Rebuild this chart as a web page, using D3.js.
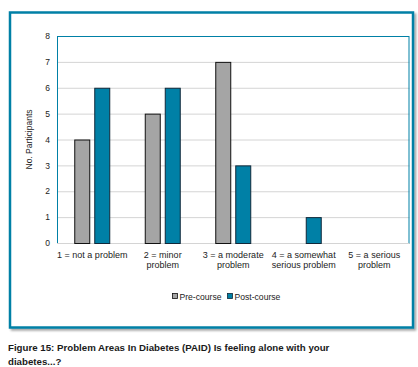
<!DOCTYPE html>
<html><head><meta charset="utf-8">
<script src="https://cdn.jsdelivr.net/npm/d3@7"></script>
<style>body{margin:0;background:#fff;} svg{display:block;font-family:"Liberation Sans",Arial,Helvetica,sans-serif;}</style>
</head><body>
<script>
const categories = [["1 = not a problem"],["2 = minor","problem"],["3 = a moderate","problem"],["4 = a somewhat","serious problem"],["5 = a serious","problem"]];
const seriesNames = ["Pre-course","Post-course"];
const preCourse = [4,5,7,0,0];
const postCourse = [6,6,3,1,0];
const yTicks = [0,1,2,3,4,5,6,7,8];
const colors = ["#a5a5a5","#0080a6"];
const strokes = ["#111","#10283a"];

const W=418,H=367;
const svg=d3.select("body").append("svg").attr("width",W).attr("height",H);
const defs=svg.append("defs");
const f=defs.append("filter").attr("id","sh").attr("x","-5%").attr("y","-5%").attr("width","115%").attr("height","115%");
f.append("feGaussianBlur").attr("in","SourceAlpha").attr("stdDeviation",1.2);
f.append("feOffset").attr("dx",2).attr("dy",2).attr("result","o");
f.append("feComponentTransfer").append("feFuncA").attr("type","linear").attr("slope",0.35);
const m=f.append("feMerge"); m.append("feMergeNode"); m.append("feMergeNode").attr("in","SourceGraphic");

svg.append("rect").attr("x",10).attr("y",12.5).attr("width",403).attr("height",315)
  .attr("fill","#fff").attr("stroke","#0080a6").attr("stroke-width",2.5).attr("filter","url(#sh)");

const L=57,T=36,R=409.5,B=243;
const x=d3.scaleBand().domain(d3.range(categories.length)).range([L,R]);
const y=d3.scaleLinear().domain([0,8]).range([B,T]);

const g=svg.append("g");
g.selectAll("line.grid").data(yTicks.filter(d=>d>0&&d<8)).enter().append("line")
  .attr("x1",L).attr("x2",R).attr("y1",d=>y(d)+0.5).attr("y2",d=>y(d)+0.5)
  .attr("stroke","#d4d4d4").attr("stroke-width",1);

const ya=d3.axisLeft(y).tickValues(yTicks).tickSize(0).tickPadding(7);
const yg=g.append("g").attr("transform",`translate(${L},0)`).call(ya);
yg.select(".domain").remove();
yg.selectAll("text").attr("font-size",8.5).attr("fill","#222").attr("font-family","Liberation Sans,Arial,sans-serif");

// plot border
g.append("rect").attr("x",L+0.5).attr("y",T+0.5).attr("width",R-L-1).attr("height",B-T)
 .attr("fill","none").attr("stroke","#0080a6").attr("stroke-width",1);
g.append("line").attr("x1",L).attr("x2",R).attr("y1",B+0.5).attr("y2",B+0.5).attr("stroke","#d4d4d4");

const bw=16, gap=4;
const data=[preCourse,postCourse];
data.forEach((vals,s)=>{
  g.selectAll(null).data(vals.map((v,i)=>({v,i}))).enter().filter(d=>d.v>0).append("rect")
   .attr("x",d=>x(d.i)+x.bandwidth()/2-bw-gap/2+s*(bw+gap)+0.5)
   .attr("y",d=>y(d.v)+0.5)
   .attr("width",bw-1).attr("height",d=>y(0)-y(d.v))
   .attr("fill",colors[s]).attr("stroke",strokes[s]).attr("stroke-width",1);
});

// x labels
categories.forEach((lines,i)=>{
  const t=g.append("text").attr("text-anchor","middle").attr("font-size",9).attr("fill","#222");
  lines.forEach((ln,k)=>t.append("tspan").attr("x",x(i)+x.bandwidth()/2).attr("y",257.5+k*10).text(ln));
});

// y title
g.append("text").attr("transform",`translate(32,${(T+B)/2}) rotate(-90)`).attr("text-anchor","middle")
 .attr("font-size",8.5).attr("fill","#222").text("No. Participants");

// legend
const lg=g.append("g");
const lx=[172.5,227.5];
seriesNames.forEach((n,s)=>{
  lg.append("rect").attr("x",lx[s]).attr("y",293.5).attr("width",5).attr("height",5)
    .attr("fill",colors[s]).attr("stroke",strokes[s]).attr("stroke-width",0.8);
  lg.append("text").attr("x",lx[s]+7).attr("y",299.5).attr("font-size",8.6).attr("fill","#222").text(n);
});

// caption
const cap=svg.append("text").attr("font-size",9.7).attr("font-weight","bold").attr("fill","#1a1a1a");
cap.append("tspan").attr("x",8).attr("y",351).text("Figure 15: Problem Areas In Diabetes (PAID) Is feeling alone with your");
cap.append("tspan").attr("x",8).attr("y",365).text("diabetes...?");
</script>
</body></html>
